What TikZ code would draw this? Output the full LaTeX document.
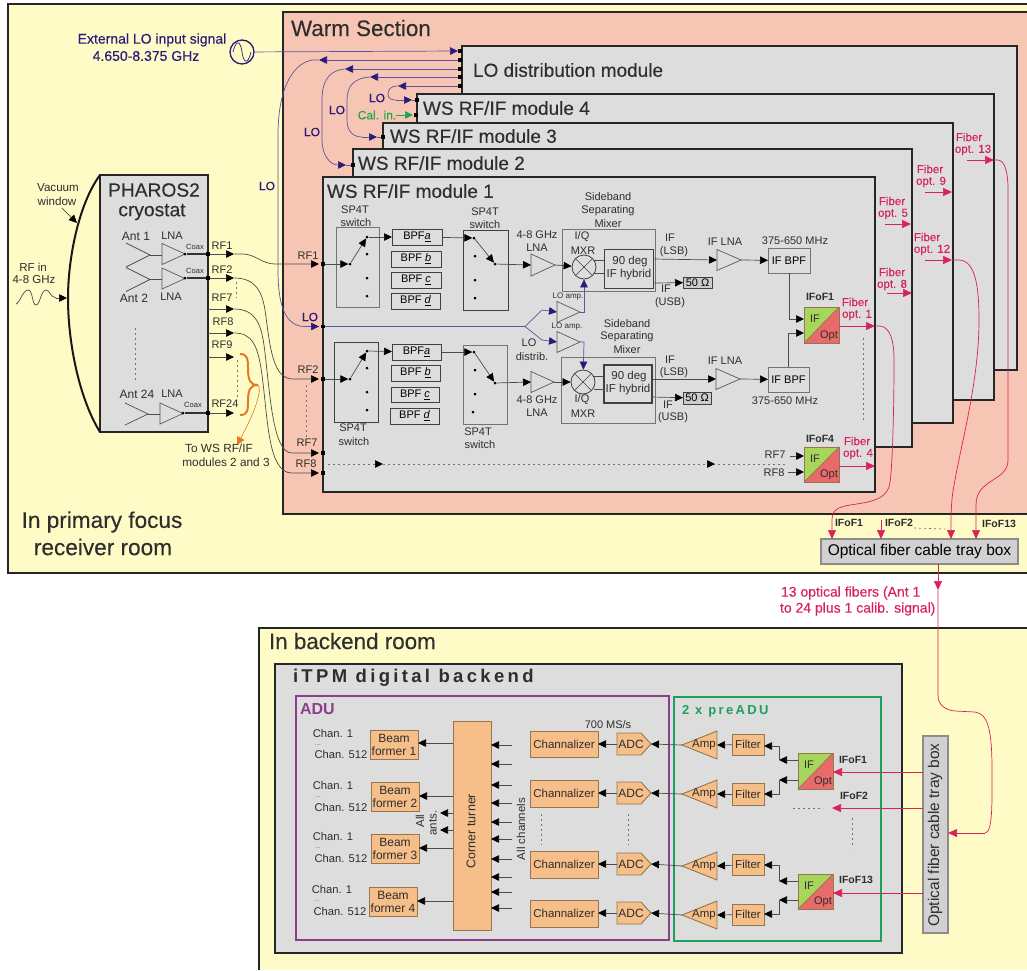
\documentclass[tikz,border=0pt]{standalone}
\usepackage{fontspec}
\setmainfont{Liberation Sans}
\newfontfamily\spacedfont[LetterSpace=18]{Liberation Sans}
\newfontfamily\fb[FakeBold=0.2]{Liberation Sans}
\usetikzlibrary{arrows.meta,calc}
\definecolor{roomy}{HTML}{FFFBC6}
\definecolor{warm}{HTML}{F7C5B3}
\definecolor{modg}{HTML}{DCDDDC}
\definecolor{indi}{HTML}{2A1A7A}
\definecolor{crim}{HTML}{D9215A}
\definecolor{oran}{HTML}{F6BE88}
\definecolor{orbd}{HTML}{94774F}
\definecolor{cgre}{HTML}{A8D55C}
\definecolor{cred}{HTML}{E86A6A}
\definecolor{txt}{HTML}{2E2E2E}
\definecolor{purp}{HTML}{8B3F8B}
\definecolor{gree}{HTML}{1BA060}
\definecolor{calg}{HTML}{18A850}
\definecolor{brace}{HTML}{E07B20}
\newcounter{lbn}
\newcommand\lb[5][]{\stepcounter{lbn}\node[lbl,font=\fontsize{#2}{#2}\selectfont,#1] (t\thelbn) at (#3,#4) {#5};}
\newcommand\bx[7][]{\node[inner sep=0pt,outer sep=0pt,minimum width={(#5-#3)*1pt},minimum height={(#6-#4)*1pt},#1] (#2) at ({(#3+#5)/2},{(#4+#6)/2}) {#7};}
\newcommand\cd[3]{\coordinate (#1) at (#2,#3);}
\newcommand\tm[3]{\node[termn] (#1) at (#2,#3) {};}
\newcommand\dt[3]{\node[dotn] (#1) at (#2,#3) {};}
\newcommand\tri[6][tristy]{\draw[#1] (#3,{#5-#6}) -- (#4,#5) -- (#3,{#5+#6}) -- cycle; \coordinate (#2-i) at (#3,#5); \coordinate (#2-o) at (#4,#5);}
\newcommand\mx[3]{\node[circle,draw=black!75,line width=.8pt,inner sep=0pt,minimum size=24pt] (#1) at (#2,#3) {}; \draw[line width=.6pt,draw=black!75] (#1.45) -- (#1.225) (#1.135) -- (#1.315);}
\newcommand\conv[5]{%
 \fill[cgre] (#2,#3) rectangle (#4,#5);
 \fill[cred] (#4,#3) -- (#4,#5) -- (#2,#5) -- cycle;
 \draw[line width=.7pt,draw=orbd] (#4,#3) -- (#2,#5);
 \bx[draw=orbd,line width=1pt]{#1}{#2}{#3}{#4}{#5}{}
 \lb{11}{#2+11}{#3+12}{IF}
 \lb{11}{#4-10}{#5-7}{Opt}}
\newcommand\amp[3]{% name xl yc
 \draw[fill=oran,draw=orbd,line width=.9pt] (#2,#3) -- (#2+35,{#3-14}) -- (#2+35,{#3+14}) -- cycle;
 \coordinate (#1-l) at (#2,#3); \coordinate (#1-r) at (#2+35,#3);
 \lb{11.5}{#2+22}{#3}{Amp}}
\newcommand\adc[3]{% name xl yc
 \draw[fill=oran,draw=orbd,line width=.9pt] (#2,{#3-11}) -- (#2+24,{#3-11}) -- (#2+34,#3) -- (#2+24,{#3+11}) -- (#2,{#3+11}) -- cycle;
 \coordinate (#1-l) at (#2,#3); \coordinate (#1-r) at (#2+34,#3);
 \lb{12}{#2+14}{#3}{ADC}}
\tikzset{
 lbl/.style={inner sep=0pt,outer sep=0pt,text=txt,align=center},
 termn/.style={rectangle,fill=black,inner sep=0pt,minimum size=3.5pt},
 dotn/.style={circle,fill=black,inner sep=0pt,minimum size=3pt},
 tristy/.style={draw=black!65,line width=.7pt},
 modbox/.style={draw=black!85,fill=modg,line width=1.7pt},
 thinbox/.style={draw=black!55,line width=.9pt},
 darkbox/.style={draw=black!75,line width=.9pt},
 orbox/.style={fill=oran,draw=orbd,line width=.9pt,text=txt},
 wire/.style={line width=.7pt,draw=black!70},
 arr/.style={wire,-{Triangle[length=8pt,width=7.5pt,color=black]}},
 lo/.style={line width=.7pt,draw=indi!75},
 loarr/.style={lo,-{Triangle[length=8pt,width=7.5pt,color=indi]}},
 fib/.style={line width=.7pt,draw=crim},
 fibarr/.style={fib,-{Triangle[length=9pt,width=8pt,color=crim]}},
 grdash/.style={line width=.7pt,draw=black!55,dash pattern=on 2pt off 3pt},
 heavy/.style={execute at begin node=\fb},
 redt/.style={text=crim,heavy},
 indt/.style={text=indi,heavy},
 bmf/.style={orbox,align=center,font=\fontsize{12}{13}\selectfont},
}
\begin{document}
\begin{tikzpicture}[x=1pt,y=-1pt]
\useasboundingbox (0,0) rectangle (1027,970);
\fill[white] (0,0) rectangle (1027,970);
% rooms
\fill[roomy] (8,4) rectangle (1027,573);
\draw[line width=1.4pt,draw=black!85] (1027,4) -- (8,4) -- (8,573) -- (1027,573);
\fill[roomy] (259,628) rectangle (1027,970);
\draw[line width=1.4pt,draw=black!85] (1027,628) -- (259,628) -- (259,970);
\fill[warm] (283,12) rectangle (1027,514);
\draw[line width=1.4pt,draw=black!85] (1027,12) -- (283,12) -- (283,514) -- (1027,514);
\lb[anchor=west,heavy]{22.4}{291}{28}{Warm Section}
\lb[heavy]{22.6}{102}{522}{In primary focus}
\lb[heavy]{22.6}{103}{547}{receiver room}
\lb[anchor=west,heavy]{22.4}{269}{641}{In backend room}
% modules
\bx[modbox]{lomod}{462}{46}{1017}{370}{}
\bx[modbox]{m4}{417}{94}{994}{400}{}
\bx[modbox]{m3}{383}{123}{953}{423}{}
\bx[modbox]{m2}{353}{149}{912}{447}{}
\bx[modbox]{m1}{323}{177}{875}{492}{}
\lb[anchor=west,heavy]{19}{473}{70}{LO distribution module}
\lb[anchor=west,heavy]{19}{423}{108}{WS RF/IF module 4}
\lb[anchor=west,heavy]{19}{390}{136}{WS RF/IF module 3}
\lb[anchor=west,heavy]{19}{358}{163}{WS RF/IF module 2}
\lb[anchor=west,heavy]{19}{327}{191}{WS RF/IF module 1}
% External LO
\lb[indt]{14}{152}{40}{External LO input signal}
\lb[indt]{14}{146}{56}{4.650-8.375 GHz}
\node[circle,draw=indi,line width=1.3pt,inner sep=0pt,minimum size=24pt] (src) at (242,52) {};
\draw[indi,line width=.7pt] (233,52) .. controls (237,36) and (241,44) .. (242,52) .. controls (243,60) and (247,68) .. (251,52);
\tm{lot0}{460}{51}\tm{lot1}{460}{60}\tm{lot2}{460}{69}\tm{lot3}{460}{77}\tm{lot4}{460}{86}
\cd{srctip}{458}{51}
\draw[loarr] (src) -- (srctip);
% LO 1
\cd{lo1t}{319}{60}\cd{lo1e}{319}{326.5}
\draw[loarr] (lot1) -- (lo1t);
\tm{m1lo}{323}{326.5}
\draw[lo] (lo1t) -- ++(-6,0) .. controls (295,62) and (278,85) .. (278,135) -- (278,270) .. controls (278,305) and (285,326.5) .. (305,326.5) -- (lo1e);
\draw[loarr] (305,326.5) -- (lo1e);
\lb[indt]{12}{267}{186}{LO}
\lb[indt]{12}{310}{317}{LO}
% LO 2
\cd{lo2t}{345}{69}\cd{lo2e}{346}{165}\tm{m2lo}{353}{165}
\draw[loarr] (lot2) -- (lo2t);
\draw[lo] (lo2t) .. controls (330,70) and (322,80) .. (322,100) -- (322,140) .. controls (322,155) and (330,165) .. (338,165);
\draw[loarr] (338,165) -- (lo2e);
\draw[lo] (lo2e) -- (m2lo);
\lb[indt]{12}{312}{132}{LO}
% LO 3
\cd{lo3t}{370}{77}\cd{lo3e}{377}{137}\tm{m3lo}{383}{137}
\draw[loarr] (lot3) -- (lo3t);
\draw[lo] (lo3t) .. controls (355,78) and (347,85) .. (347,100) -- (347,120) .. controls (347,130) and (352,137) .. (362,137);
\draw[loarr] (362,137) -- (lo3e);
\draw[lo] (lo3e) -- (m3lo);
\lb[indt]{12}{337}{110}{LO}
% LO 4
\cd{lo4t}{398}{86}\cd{lo4e}{412}{100}\tm{m4lo}{417}{100}
\draw[loarr] (lot4) -- (lo4t);
\draw[lo] (lo4t) .. controls (390,86) and (388,90) .. (388,94) .. controls (388,99) and (392,100) .. (396,100);
\draw[loarr] (396,100) -- (lo4e);
\draw[lo] (lo4e) -- (m4lo);
\lb[indt]{12}{377}{98}{LO}
% Cal in
\lb[text=calg,heavy]{12}{377}{115}{Cal. in.}
\cd{calf}{396}{115}\cd{calt}{413}{115}\tm{m4cal}{416}{115}
\draw[line width=.6pt,draw=calg,-{Triangle[length=8pt,width=7.5pt,color=calg]}] (calf) -- (calt);
% Cryostat
\bx[modbox]{cryo}{100}{175}{208}{432}{}
\draw[line width=2pt,draw=black!90] (cryo.north west) .. controls (78,205) and (68,260) .. (68,298) .. controls (68,345) and (80,400) .. (cryo.south west);
\lb[heavy]{19.2}{154}{190}{PHAROS2}
\lb[heavy]{19.2}{152}{212}{cryostat}
\lb{11.6}{58}{188}{Vacuum}
\lb{11.6}{57}{201}{window}
\cd{vwa}{62}{208}\cd{vwb}{77}{223}
\draw[arr] (vwa) -- (vwb);
\lb{11.5}{33}{267}{RF in}
\lb{11.5}{34}{280}{4-8 GHz}
\cd{rfw}{16}{304}\cd{rfwe}{56}{298}\cd{rfwt}{67}{298}
\draw[wire] (rfw) .. controls (19,304) and (23,290) .. (28,290) .. controls (33,290) and (32,305) .. (36,305) .. controls (40,305) and (41,290) .. (46,290) .. controls (50,290) and (50,297) .. (rfwe);
\draw[arr] (rfwe) -- (rfwt);
\foreach \n/\y/\xo in {a/0/0,b/24.5/0}{
 \draw[wire] (126,{243+\y}) -- (150,{255+\y}) -- (126,{267+\y});
 \draw[wire] (150,{255+\y}) -- (162,{255+\y});
 \tri{lna\n}{162}{185}{254+\y}{10.5}
}
\draw[wire] (125,403) -- (148,414) -- (125,425);
\draw[wire] (148,414) -- (160,414);
\tri{lnac}{160}{183}{413.5}{10.5}
\lb{12}{136}{236}{Ant 1}
\lb{11}{172}{236}{LNA}
\lb{12}{134}{298}{Ant 2}
\lb{11}{171}{297}{LNA}
\lb{12}{137}{394}{Ant 24}
\lb{11}{172}{394}{LNA}
\cd{antd1}{135}{328}\cd{antd2}{135}{383}
\draw[grdash] (antd1) -- (antd2);
\lb{7.5}{195}{247}{Coax}
\lb{7.5}{195}{271}{Coax}
\lb{7.5}{193}{405}{Coax}
\lb{11}{222}{246}{RF1}
\lb{11}{222}{270}{RF2}
\lb{11}{222}{298}{RF7}
\lb{11}{223}{322}{RF8}
\lb{11}{222}{345}{RF9}
\lb{11}{225}{404}{RF24}
\tm{cr1}{208}{254}\tm{cr2}{208}{278}\tm{cr24}{208}{413}
\dt{lo1d}{185}{254}\dt{lo2d}{185}{278}\dt{lo24d}{183}{413}
\draw[line width=1.1pt,draw=black!80] (lo1d) -- (cr1) (lo2d) -- (cr2) (lo24d) -- (cr24);
\cd{r1}{234}{254}\cd{r2}{234}{278}\cd{r7}{234}{309}\cd{r8}{234}{333}\cd{r9}{234}{357}\cd{r24}{234}{413}
\cd{c7}{208}{309}\cd{c8}{208}{333}\cd{c9}{208}{357}
\draw[arr] (cr1) -- (r1);
\draw[arr] (cr2) -- (r2);
\draw[arr] (c7) -- (r7);
\draw[arr] (c8) -- (r8);
\draw[arr] (c9) -- (r9);
\draw[arr] (cr24) -- (r24);
\cd{dv1}{236}{282}\cd{dv2}{236}{298}\cd{dv3}{237}{360}\cd{dv4}{237}{400}
\draw[grdash] (dv1) -- (dv2);
\draw[grdash] (dv3) -- (dv4);
% brace
\cd{brt}{258}{385}\cd{brend}{237}{445}
\draw[line width=2pt,draw=brace] (240,354) .. controls (248,354) and (248,360) .. (248,368) .. controls (248,380) and (250,385) .. (brt) .. controls (250,385) and (248,390) .. (248,402) .. controls (248,410) and (248,415) .. (240,415);
\draw[line width=.6pt,draw=brace,-{Triangle[length=8pt,width=8pt,color=brace]}] (brt) .. controls (264,392) and (248,425) .. (brend);
\lb{11.8}{219}{448}{To WS RF/IF}
\lb{11.8}{226}{462}{modules 2 and 3}
% RF curves
\cd{m1a}{319}{264}\cd{m2a}{319}{379}\cd{m7a}{319}{453}\cd{m8a}{319}{473}
\tm{i1}{323}{264}\tm{i2}{323}{379}\tm{i7}{323}{453}\tm{i8}{323}{473}
\draw[arr] (r1) -- (243,254) .. controls (255,254) and (262,264) .. (275,264) -- (m1a);
\draw[arr] (r2) .. controls (256,278) and (262,292) .. (265,310) .. controls (270,345) and (272,379) .. (293,379) -- (m2a);
\draw[arr] (r7) .. controls (256,309) and (261,325) .. (264,345) .. controls (270,390) and (272,453) .. (292,453) -- (m7a);
\draw[arr] (r8) .. controls (252,333) and (258,345) .. (262,375) .. controls (268,420) and (268,473) .. (292,473) -- (m8a);
\lb{11}{308}{256}{RF1}
\lb{11}{308}{370}{RF2}
\lb{11}{307}{443}{RF7}
\lb{11}{306}{464}{RF8}
\cd{dv5}{306}{385}\cd{dv6}{306}{437}
\draw[grdash] (dv5) -- (dv6);
% ---- upper chain
\bx[thinbox]{sw1}{336}{227}{379}{307}{}
\bx[darkbox]{sw2}{463}{230}{508}{310}{}
\lb{11}{355}{210}{SP4T}
\lb{11}{356}{223}{switch}
\lb{11}{485}{212}{SP4T}
\lb{11}{485}{225}{switch}
\dt{d1}{350}{264}\dt{d2}{367}{237}\dt{d3}{367}{254}\dt{d4}{367}{278}\dt{d5}{367}{296}
\bx[darkbox]{ba1}{392}{229}{442}{245}{\fontsize{11}{11}\selectfont BPF\textit{\underline{a}}}
\bx[darkbox]{bb1}{391}{251}{441}{267}{\fontsize{11}{11}\selectfont BPF \textit{\underline{b}}}
\bx[darkbox]{bc1}{391}{272}{441}{288}{\fontsize{11}{11}\selectfont BPF \textit{\underline{c}}}
\bx[darkbox]{bd1}{391}{293}{440}{309}{\fontsize{11}{11}\selectfont BPF \textit{\underline{d}}}
\draw[arr] (i1) -- (d1);
\draw[arr] (d1) -- (d2);
\draw[arr] (d2) -- (ba1);
\dt{e1}{474}{238}\dt{e2}{475}{256}\dt{e3}{475}{280}\dt{e4}{475}{298}\dt{e5}{495}{264}
\draw[arr] (ba1) -- (e1);
\draw[arr] (e1) -- (e5);
\tri{la1}{531}{555}{265}{11}
\draw[arr] (e5) -- (la1-i);
\lb{11}{537}{235}{4-8 GHz}
\lb{11}{537}{248}{LNA}
\bx[thinbox]{sb1}{562}{229}{655}{291}{}
\mx{mix1}{584}{267}
\bx[darkbox]{hy1}{604}{249}{653}{288}{}
\lb{11.5}{630}{262}{90 deg}
\lb{11.5}{629}{275}{IF hybrid}
\draw[arr] (la1-o) -- (mix1);
\cd{hi1}{604}{260}\cd{hi2}{604}{273}\cd{mo1}{594}{260}\cd{mo2}{594}{273}
\draw[wire] (mo1) -- (hi1) (mo2) -- (hi2);
\lb{11}{582}{237}{I/Q}
\lb{11}{583}{251}{MXR}
\lb{11}{608}{197}{Sideband}
\lb{11}{608}{211}{Separating}
\lb{11}{608}{224}{Mixer}
% IF chain upper
\cd{hu1}{653}{259}\cd{hu2}{653}{283}
\tri{il1}{717}{741}{260}{10.5}
\draw[arr] (hu1) -- (il1-i);
\bx[thinbox]{ibp1}{768}{248}{810}{273}{\fontsize{11}{11}\selectfont IF BPF}
\draw[arr] (il1-o) -- (ibp1);
\bx[darkbox,fill=black!20]{r50a}{683}{277}{712}{288}{\fontsize{11}{11}\selectfont 50 Ω}
\draw[arr] (hu2) -- (r50a);
\lb{11}{670}{238}{IF}
\lb{11}{674}{252}{(LSB)}
\lb{11}{666}{289}{IF}
\lb{11}{670}{303}{(USB)}
\lb{11}{725}{242}{IF LNA}
\lb{11}{795}{241}{375-650 MHz}
% ---- lower chain
\bx[darkbox]{sw3}{334}{342}{378}{422}{}
\bx[thinbox]{sw4}{463}{345}{507}{424}{}
\lb{11}{353}{428}{SP4T}
\lb{11}{354}{442}{switch}
\lb{11}{478}{432}{SP4T}
\lb{11}{480}{445}{switch}
\dt{f1}{350}{379}\dt{f2}{367}{351}\dt{f3}{367}{368}\dt{f4}{367}{392}\dt{f5}{367}{410}
\bx[darkbox]{ba2}{392}{344}{441}{360}{\fontsize{11}{11}\selectfont BPF\textit{\underline{a}}}
\bx[darkbox]{bb2}{391}{365}{440}{381}{\fontsize{11}{11}\selectfont BPF \textit{\underline{b}}}
\bx[darkbox]{bc2}{391}{387}{439}{402}{\fontsize{11}{11}\selectfont BPF \textit{\underline{c}}}
\bx[darkbox]{bd2}{390}{408}{439}{424}{\fontsize{11}{11}\selectfont BPF \textit{\underline{d}}}
\draw[arr] (i2) -- (f1);
\draw[arr] (f1) -- (f2);
\draw[arr] (f2) -- (ba2);
\dt{g1}{474}{352}\dt{g2}{475}{370}\dt{g3}{475}{394}\dt{g4}{473}{412}\dt{g5}{495}{383}
\draw[arr] (ba2) -- (g1);
\draw[arr] (g1) -- (g5);
\tri{la2}{531}{554}{382}{10.5}
\draw[arr] (g5) -- (la2-i);
\lb{11}{537}{400}{4-8 GHz}
\lb{11}{537}{413}{LNA}
\bx[thinbox]{sb2}{561}{357}{655}{423}{}
\mx{mix2}{583}{382}
\bx[darkbox,line width=1.1pt]{hy2}{604}{365}{652}{403}{}
\lb{11.5}{629}{377}{90 deg}
\lb{11.5}{628}{390}{IF hybrid}
\draw[arr] (la2-o) -- (mix2);
\cd{hj1}{604}{376}\cd{hj2}{604}{389}\cd{mp1}{594}{376}\cd{mp2}{594}{389}
\draw[wire] (mp1) -- (hj1) (mp2) -- (hj2);
\lb{11}{582}{400}{I/Q}
\lb{11}{583}{414}{MXR}
\lb{11}{627}{324}{Sideband}
\lb{11}{627}{337}{Separating}
\lb{11}{627}{350}{Mixer}
\cd{hv1}{652}{379}\cd{hv2}{652}{397}
\tri{il2}{716}{740}{379}{10.5}
\draw[arr] (hv1) -- (il2-i);
\bx[thinbox]{ibp2}{768}{367}{809}{392}{\fontsize{11}{11}\selectfont IF BPF}
\draw[arr] (il2-o) -- (ibp2);
\bx[darkbox,fill=black!20]{r50b}{683}{392}{711}{404}{\fontsize{11}{11}\selectfont 50 Ω}
\draw[arr] (hv2) -- (r50b);
\lb{11}{670}{360}{IF}
\lb{11}{674}{373}{(LSB)}
\lb{11}{668}{405}{IF}
\lb{11}{673}{418}{(USB)}
\lb{11}{725}{361}{IF LNA}
\lb{11}{785}{401}{375-650 MHz}
% LO distribution inside
\cd{lob}{525}{326.5}\cd{loa1}{542}{310}\cd{loa2}{542}{340}
\tri{lamp1}{557}{580}{312}{10.5}
\tri{lamp2}{557}{580}{342}{10.5}
\draw[lo] (m1lo) -- (lob) -- (loa1);
\draw[lo] (lob) -- (loa2);
\draw[loarr] (loa1) -- (lamp1-i);
\draw[loarr] (loa2) -- (lamp2-i);
\cd{lou}{584}{312}\cd{lod}{584}{342}
\draw[loarr] (lamp1-o) -- (lou) -- (mix1);
\draw[loarr] (lamp2-o) -- (lod) -- (mix2);
\lb{8}{568}{297}{LO amp.}
\lb{8}{567}{327}{LO amp.}
\lb{11}{529}{343}{LO}
\lb{11}{532}{357}{distrib.}
% conversion boxes module 1
\conv{cv1}{804}{307}{839}{343}
\conv{cv4}{804}{447}{839}{482}
\cd{cin1}{804}{319}\cd{cin2}{804}{333}
\draw[arr] (ibp1.south) |- (cin1);
\draw[arr] (ibp2.north) |- (cin2);
\cd{q1}{790}{456}\cd{q2}{804}{456}\cd{q3}{788}{472}\cd{q4}{804}{472}
\draw[arr] (q1) -- (q2);
\draw[arr] (q3) -- (q4);
\lb{11}{775}{455}{RF7}
\lb{11}{774}{473}{RF8}
\lb[font=\fontsize{10.5}{10.5}\selectfont\bfseries]{10.5}{820}{297}{IFoF1}
\lb[font=\fontsize{10.5}{10.5}\selectfont\bfseries]{10.5}{820}{439}{IFoF4}
\cd{bd1s}{328}{464}\cd{bd1a}{376}{464}\cd{bd1b}{383}{464}\cd{bd1c}{708}{464}\cd{bd1d}{715}{464}\cd{bd1e}{785}{464}
\draw[grdash] (bd1s) -- (bd1e);
\draw[arr] (bd1a) -- (bd1b);
\draw[arr] (bd1c) -- (bd1d);
\cd{dv7}{863}{338}\cd{dv8}{863}{422}
\draw[grdash] (dv7) -- (dv8);
% fibers in warm section
\lb[redt]{11.5}{855}{302}{Fiber}
\lb[redt]{11.5}{857}{315}{opt. 1}
\lb[redt]{11.5}{857}{441}{Fiber}
\lb[redt]{11.5}{858}{454}{opt. 4}
\lb[redt]{11.5}{892}{201}{Fiber}
\lb[redt]{11.5}{893}{214}{opt. 5}
\lb[redt]{11.5}{892}{272}{Fiber}
\lb[redt]{11.5}{892}{285}{opt. 8}
\lb[redt]{11.5}{930}{169}{Fiber}
\lb[redt]{11.5}{931}{182}{opt. 9}
\lb[redt]{11.5}{927}{237}{Fiber}
\lb[redt]{11.5}{932}{250}{opt. 12}
\lb[redt]{11.5}{969}{137}{Fiber}
\lb[redt]{11.5}{973}{150}{opt. 13}
\cd{fo1}{875}{326}\cd{fo4}{875}{466}
\draw[fibarr] (cv1.east |- fo1) -- (fo1);
\draw[fibarr] (cv4.east |- fo4) -- (fo4);
\cd{f5a}{885}{224}\cd{f5b}{911}{224}
\draw[fibarr] (f5a) -- (f5b);
\cd{f8a}{887}{293}\cd{f8b}{912}{293}
\draw[fibarr] (f8a) -- (f8b);
\cd{f9a}{925}{192}\cd{f9b}{952}{192}
\draw[fibarr] (f9a) -- (f9b);
\cd{f12a}{925}{260}\cd{f12b}{952}{260}
\draw[fibarr] (f12a) -- (f12b);
\cd{f13a}{967}{160}\cd{f13b}{994}{160}
\draw[fibarr] (f13a) -- (f13b);
% tray box 1
\bx[fill=black!18,draw=black!45,line width=1.2pt]{tray}{821}{539}{1018}{564}{\fontsize{15.5}{15.5}\selectfont Optical fiber cable tray box}
\cd{t1}{832}{539}\cd{t2}{881}{539}\cd{t12}{951}{539}\cd{t13}{976}{539}
\cd{t2s}{881}{520}
\draw[fibarr] (fo1) -- (880,326) .. controls (890,327) and (894,340) .. (894,360) .. controls (894,420) and (892,470) .. (890,482) .. controls (888,500) and (870,502) .. (850,505) .. controls (838,507) and (832,510) .. (832,520) -- (t1);
\draw[fibarr] (t2s) -- (t2);
\draw[fibarr] (f12b) -- (960,260) .. controls (975,262) and (979,285) .. (979,320) .. controls (979,380) and (962,440) .. (955,480) .. controls (951,500) and (951,510) .. (t12);
\draw[fibarr] (f13b) -- (998,160) .. controls (1005,161) and (1008,172) .. (1008,190) -- (1008,460) .. controls (1008,482) and (976,478) .. (976,505) -- (t13);
\cd{t2d}{914}{528}\cd{t3d}{945}{529}
\draw[grdash] (t2d) -- (t3d);
\lb[font=\fontsize{10.5}{10.5}\selectfont\bfseries]{10.5}{849}{523}{IFoF1}
\lb[font=\fontsize{10.5}{10.5}\selectfont\bfseries]{10.5}{899}{523}{IFoF2}
\lb[font=\fontsize{10.5}{10.5}\selectfont\bfseries]{10.5}{999}{524}{IFoF13}
\lb[redt,anchor=west]{14}{781}{593}{13 optical fibers (Ant 1}
\lb[redt,anchor=west]{14}{780}{609}{to 24 plus 1 calib. signal)}
% backend
\bx[modbox]{itpm}{275}{664}{902}{953}{}
\node[lbl,anchor=west,font=\fontsize{18.5}{18.5}\selectfont\spacedfont\bfseries] (itpmt) at (293,678) {iTPM digital backend};
\bx[draw=purp,line width=1.4pt]{adu}{296}{696}{669}{940}{}
\bx[draw=gree,line width=1.6pt]{pre}{674}{697}{881}{941}{}
\lb[anchor=west,text=purp,font=\fontsize{16}{16}\selectfont\bfseries]{16}{300}{709}{ADU}
\node[lbl,anchor=west,text=gree,font=\fontsize{13}{13}\selectfont\spacedfont\bfseries] (pret) at (682,711) {2 x preADU};
\bx[orbox]{ct}{453}{721}{491}{930}{}
\lb[rotate=90]{12.5}{471}{831}{Corner turner}
\bx[bmf]{bf1}{370}{730}{418}{759}{Beam\\former 1}
\bx[bmf]{bf2}{371}{782}{419}{811}{Beam\\former 2}
\bx[bmf]{bf3}{371}{834}{419}{863}{Beam\\former 3}
\bx[bmf]{bf4}{369}{887}{417}{916}{Beam\\former 4}
\foreach \y/\b in {743/bf1,796/bf2,848/bf3,901/bf4}{
 \coordinate (x) at (453,\y);
 \draw[arr] (x) -- (\b.east |- x);
}
\lb{11.2}{333}{733}{Chan. 1}
\lb{5}{318}{745}{....}
\lb{11.2}{341}{754}{Chan. 512}
\lb{11.2}{333}{785}{Chan. 1}
\lb{5}{318}{797}{....}
\lb{11.2}{341}{807}{Chan. 512}
\lb{11.2}{333}{836}{Chan. 1}
\lb{5}{318}{848}{....}
\lb{11.2}{341}{858}{Chan. 512}
\lb{11.2}{332}{889}{Chan. 1}
\lb{5}{317}{901}{....}
\lb{11.2}{340}{911}{Chan. 512}
\cd{aa1}{440}{813}\cd{aa2}{440}{830}
\draw[arr] (ct.west |- aa1) -- (aa1);
\draw[arr] (ct.west |- aa2) -- (aa2);
\lb[rotate=90]{11.5}{420}{821}{All}
\lb[rotate=90]{11.5}{433}{823}{ants.}
\foreach \y in {745,764,785,803,822,839,859,877,892,908}{
 \coordinate (x) at (512,\y);
 \draw[arr] (x) -- (ct.east |- x);
}
\lb[rotate=90]{11.5}{521}{829}{All channels}
\bx[orbox]{ch1}{530}{731}{598}{757}{\fontsize{11.5}{12}\selectfont Channalizer}
\bx[orbox]{ch2}{530}{780}{598}{807}{\fontsize{11.5}{12}\selectfont Channalizer}
\bx[orbox]{ch3}{530}{851}{598}{878}{\fontsize{11.5}{12}\selectfont Channalizer}
\bx[orbox]{ch4}{530}{900}{598}{927}{\fontsize{11.5}{12}\selectfont Channalizer}
\adc{ad1}{617}{744}
\adc{ad2}{617}{793}
\adc{ad3}{617}{864}
\adc{ad4}{617}{913}
\foreach \a/\c in {ad1/ch1,ad2/ch2,ad3/ch3,ad4/ch4}{
 \draw[arr] (\a-l) -- (\c.east |- \a-l);
}
\lb{11}{608}{725}{700 MS/s}
\amp{am1}{682}{745}
\amp{am2}{682}{794}
\amp{am3}{682}{866}
\amp{am4}{682}{915}
\draw[arr] (am1-l) -- (ad1-r);
\draw[arr] (am2-l) -- (ad2-r);
\draw[arr] (am3-l) -- (ad3-r);
\draw[arr] (am4-l) -- (ad4-r);
\bx[orbox]{fl1}{732}{734}{764}{755}{\fontsize{11.5}{12}\selectfont Filter}
\bx[orbox]{fl2}{732}{783}{764}{805}{\fontsize{11.5}{12}\selectfont Filter}
\bx[orbox]{fl3}{732}{854}{764}{875}{\fontsize{11.5}{12}\selectfont Filter}
\bx[orbox]{fl4}{732}{904}{764}{925}{\fontsize{11.5}{12}\selectfont Filter}
\draw[arr] (fl1) -- (am1-r);
\draw[arr] (fl2) -- (am2-r);
\draw[arr] (fl3) -- (am3-r);
\draw[arr] (fl4) -- (am4-r);
\conv{co1}{798}{753}{833}{789}
\conv{co2}{798}{874}{833}{909}
\cd{w1a}{798}{760}\cd{w1b}{779}{760}\cd{w1c}{779}{746}\cd{w1d}{764}{746}
\cd{w2a}{798}{780}\cd{w2b}{779}{780}\cd{w2c}{779}{794}\cd{w2d}{764}{794}
\cd{w3a}{798}{881}\cd{w3b}{779}{881}\cd{w3c}{779}{865}\cd{w3d}{764}{865}
\cd{w4a}{798}{900}\cd{w4b}{779}{900}\cd{w4c}{779}{914}\cd{w4d}{764}{914}
\foreach \k in {1,2,3,4}{
 \draw[arr] (w\k a) -- (w\k b);
 \draw[arr] (w\k b) -- (w\k c) -- (w\k d);
}
\lb[font=\fontsize{10.5}{10.5}\selectfont\bfseries]{10.5}{853}{760}{IFoF1}
\lb[font=\fontsize{10.5}{10.5}\selectfont\bfseries]{10.5}{854}{796}{IFoF2}
\lb[font=\fontsize{10.5}{10.5}\selectfont\bfseries]{10.5}{856}{880}{IFoF13}
\cd{dd1}{793}{808}\cd{dd2}{823}{808}\cd{dd3}{852}{818}\cd{dd4}{852}{848}\cd{dd5}{541}{814}\cd{dd6}{541}{845}\cd{dd7}{628}{814}\cd{dd8}{628}{845}
\draw[grdash] (dd1) -- (dd2);
\draw[grdash] (dd3) -- (dd4);
\draw[grdash] (dd5) -- (dd6);
\draw[grdash] (dd7) -- (dd8);
% tray box 2
\bx[fill=black!18,draw=black!45,line width=1.2pt]{trayb}{923}{736}{948}{933}{}
\lb[rotate=90]{15.5}{935}{835}{Optical fiber cable tray box}
\cd{ta}{923}{772}\cd{tb}{923}{808}\cd{tc}{923}{893}\cd{tt}{948}{833}
\draw[fibarr] (ta) -- (co1.east |- ta);
\cd{if2t}{832}{808}
\draw[fibarr] (tb) -- (if2t);
\draw[fibarr] (tc) -- (co2.east |- tc);
\cd{tm1}{938}{590}
\draw[fibarr] (tray.south -| tm1) -- (tm1);
\draw[fib] (tm1) -- (938,695) .. controls (938,705) and (945,710) .. (955,711) -- (975,712) .. controls (988,714) and (992,730) .. (992,770) .. controls (992,800) and (993,833) .. (985,833);
\draw[fibarr] (985,833) -- (tt);
\end{tikzpicture}
\end{document}
